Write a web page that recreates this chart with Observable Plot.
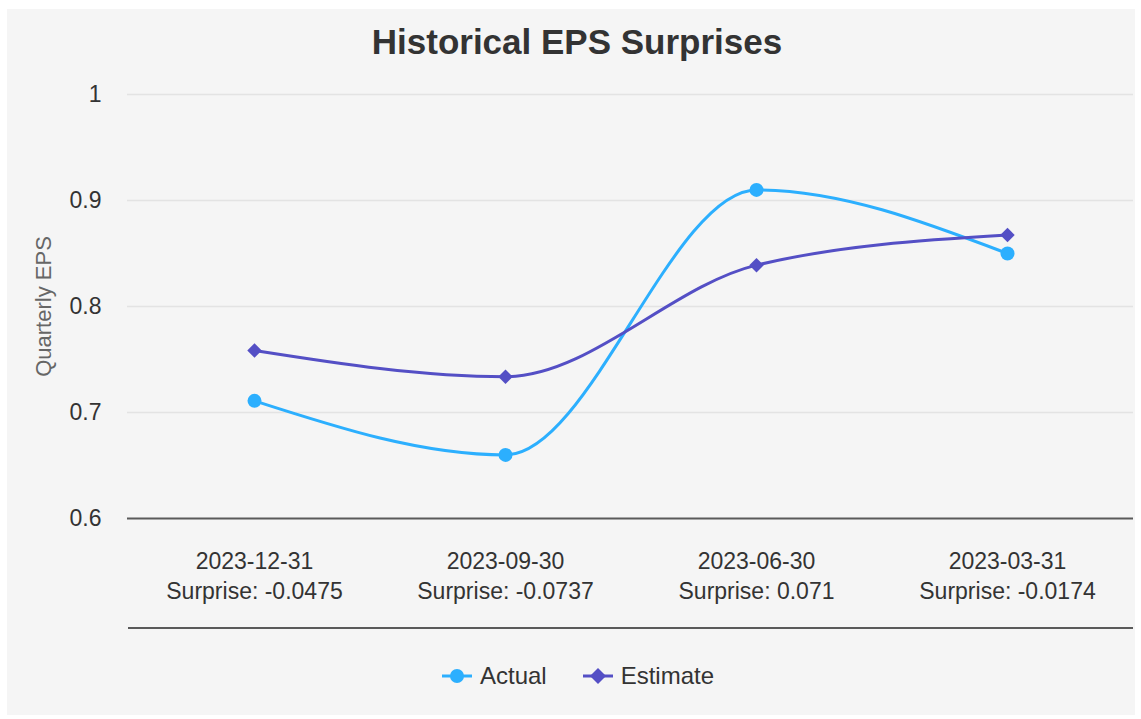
<!DOCTYPE html>
<html><head><meta charset="utf-8">
<script src="https://cdn.jsdelivr.net/npm/d3@7"></script>
<script src="https://cdn.jsdelivr.net/npm/@observablehq/plot@0.6"></script>
<style>
body{margin:0;background:#fff;font-family:"Liberation Sans",Arial,Helvetica,sans-serif;}
#panel{position:absolute;left:7px;top:9px;width:1128px;height:706px;background:#f5f5f5;overflow:hidden}
#title{position:absolute;left:6px;width:1128px;top:13px;text-align:center;font-size:35px;font-weight:bold;color:#333;line-height:40px}
#chart{position:absolute;left:0;top:60px}
#rule2{position:absolute;left:121px;width:1005px;top:618px;height:0;border-top:2px solid #5a5a5a}
#legend{position:absolute;left:7px;width:1128px;top:652px;height:30px;display:flex;justify-content:center;align-items:center;gap:36px;font-size:24px;color:#333}
.item{display:flex;align-items:center;gap:8px}
</style></head>
<body>
<div id="panel">
  <div id="title">Historical EPS Surprises</div>
  <div id="chart"></div>
  <div id="rule2"></div>
  <div id="legend"></div>
</div>
<script>
const dates = ["2023-12-31", "2023-09-30", "2023-06-30", "2023-03-31"];
const actual = [0.711, 0.66, 0.91, 0.85];
const estimate = [0.7585, 0.7337, 0.839, 0.8674];
const surprise = ["-0.0475", "-0.0737", "0.071", "-0.0174"];
const yTicks = [0.6, 0.7, 0.8, 0.9, 1];
const seriesNames = ["Actual", "Estimate"];
const colors = ["#2caffe", "#544fc5"];

const rowsA = dates.map((d, i) => ({date: d, value: actual[i]}));
const rowsE = dates.map((d, i) => ({date: d, value: estimate[i]}));
const surpriseOf = Object.fromEntries(dates.map((d, i) => [d, surprise[i]]));

const chart = Plot.plot({
  width: 1128,
  height: 560,
  marginLeft: 120,
  marginRight: 2,
  marginTop: 25,
  marginBottom: 111,
  style: {background: "transparent", fontFamily: "'Liberation Sans', Arial, Helvetica, sans-serif", overflow: "visible"},
  x: {type: "point", domain: dates, padding: 0.5, axis: null},
  y: {domain: [0.6, 1], axis: null},
  marks: [
    Plot.gridY(yTicks.filter(t => t > 0.6), {stroke: "#e3e3e3", strokeOpacity: 1, strokeWidth: 1.5}),
    Plot.ruleY([0.6], {stroke: "#5a5a5a", strokeWidth: 2}),
    Plot.axisY({ticks: yTicks, tickSize: 0, tickPadding: 26, fontSize: 23, fill: "#333", tickFormat: d => String(d), label: null}),
    Plot.axisX({tickSize: 0, tickPadding: 29, fontSize: 23, lineHeight: 1.3, fill: "#333", label: null,
      tickFormat: d => d + "\nSurprise: " + surpriseOf[d]}),
    Plot.text(["Quarterly EPS"], {frameAnchor: "left", textAnchor: "middle", dx: -84, rotate: -90, fontSize: 22, fill: "#666", text: d => d}),
    Plot.line(rowsA, {x: "date", y: "value", stroke: colors[0], strokeWidth: 3, curve: "monotone-x"}),
    Plot.line(rowsE, {x: "date", y: "value", stroke: colors[1], strokeWidth: 3, curve: "monotone-x"}),
    Plot.dot(rowsA, {x: "date", y: "value", fill: colors[0], r: 7, symbol: "circle"}),
    Plot.dot(rowsE, {x: "date", y: "value", fill: colors[1], r: 6.5, symbol: "diamond2"})
  ]
});
document.getElementById("chart").appendChild(chart);

const legend = document.getElementById("legend");
seriesNames.forEach((name, i) => {
  const item = document.createElement("div");
  item.className = "item";
  const marker = i === 0
    ? `<circle cx="15" cy="10" r="7" fill="${colors[i]}"/>`
    : `<path d="M15 2 L23 10 L15 18 L7 10 Z" fill="${colors[i]}"/>`;
  item.innerHTML = `<svg width="30" height="20"><line x1="0" x2="30" y1="10" y2="10" stroke="${colors[i]}" stroke-width="3"/>${marker}</svg><span>${name}</span>`;
  legend.appendChild(item);
});
</script>
</body></html>
